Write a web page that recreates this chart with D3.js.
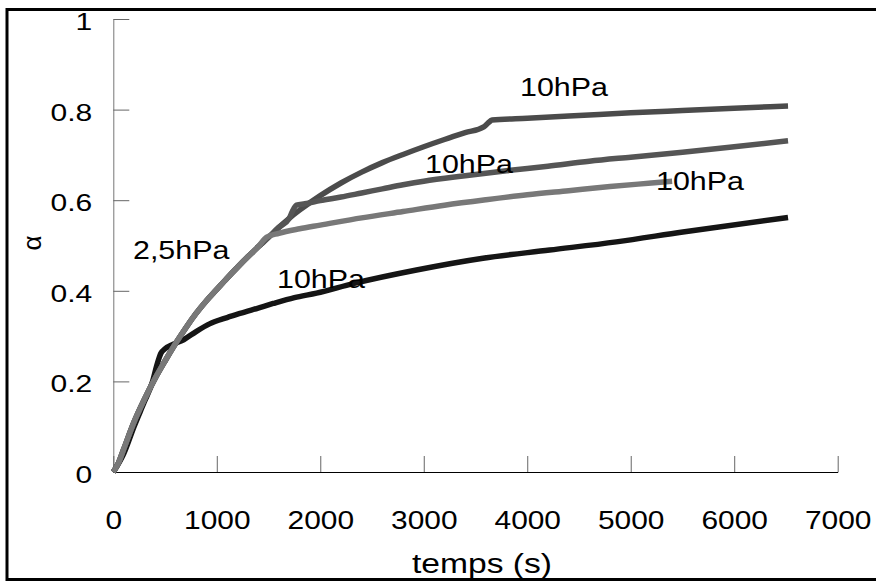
<!DOCTYPE html>
<html>
<head>
<meta charset="utf-8">
<script src="https://cdn.jsdelivr.net/npm/d3@7/dist/d3.min.js"></script>
<style>
  html, body { margin: 0; padding: 0; background: #fff; overflow: hidden; }
  svg { display: block; }
  text { font-family: "Liberation Sans", Arial, sans-serif; fill: #000; }
</style>
</head>
<body>
<svg id="chart" width="876" height="583"></svg>
<script>
// ---------- data ----------
const xTickValues = [0, 1000, 2000, 3000, 4000, 5000, 6000, 7000];
const xTickLabels = ["0", "1000", "2000", "3000", "4000", "5000", "6000", "7000"];
const yTickValues = [0, 0.2, 0.4, 0.6, 0.8, 1];
const yTickLabels = ["0", "0.2", "0.4", "0.6", "0.8", "1"];

// common 2,5 hPa segment
const commonT = [0, 50, 100, 200, 300, 400, 500, 600, 700, 800, 900, 1000, 1100, 1200, 1300, 1400, 1500, 1600, 1700, 1800, 2000, 2200, 2400, 2600, 2800, 3000, 3200, 3400, 3580];
const commonA = [0, 0.02, 0.05, 0.11, 0.16, 0.205, 0.245, 0.283, 0.318, 0.35, 0.378, 0.403, 0.428, 0.452, 0.475, 0.497, 0.518, 0.54, 0.56, 0.578, 0.61, 0.638, 0.662, 0.683, 0.701, 0.718, 0.734, 0.749, 0.762];

// switch to 10 hPa at ~450 s (black)
const blackT = [0, 100, 200, 300, 380, 420, 460, 500, 560, 680, 800, 930, 1100, 1224, 1400, 1545, 1750, 1964, 2318, 2930, 3573, 4217, 4861, 5504, 6520];
const blackA = [0, 0.04, 0.1, 0.155, 0.2, 0.235, 0.262, 0.272, 0.28, 0.292, 0.31, 0.327, 0.341, 0.35, 0.362, 0.372, 0.385, 0.395, 0.416, 0.446, 0.472, 0.49, 0.508, 0.53, 0.562];

// switch at ~1450 s (light grey)
const lightSwitch = 1400;
const lightT = [1480, 1600, 1800, 2000, 2400, 2800, 3200, 3600, 4000, 4400, 4800, 5200, 5400];
const lightA = [0.518, 0.527, 0.537, 0.545, 0.561, 0.575, 0.589, 0.601, 0.612, 0.621, 0.630, 0.638, 0.642];

// switch at ~1750 s (mid grey)
const midSwitch = 1700;
const midT = [1730, 1770, 1850, 2000, 2200, 2400, 2600, 2800, 3000, 3400, 3800, 4200, 4600, 5000, 5500, 6000, 6520];
const midA = [0.575, 0.589, 0.592, 0.599, 0.607, 0.616, 0.625, 0.634, 0.642, 0.654, 0.665, 0.675, 0.686, 0.695, 0.706, 0.718, 0.731];

// switch at ~3600 s (dark grey)
const upperSwitch = 3580;
const upperT = [3620, 3660, 4000, 4500, 5000, 5500, 6000, 6520];
const upperA = [0.770, 0.777, 0.781, 0.787, 0.793, 0.798, 0.803, 0.808];

const labelTexts = ["10hPa", "10hPa", "10hPa", "2,5hPa", "10hPa"];

// ---------- build series ----------
function withCommon(limit, tailT, tailA) {
  const pts = [];
  commonT.forEach((t, i) => { if (t <= limit) pts.push([t, commonA[i]]); });
  tailT.forEach((t, i) => pts.push([t, tailA[i]]));
  return pts;
}
const series = [
  { pts: blackT.map((t, i) => [t, blackA[i]]), color: "#151515" },
  { pts: withCommon(upperSwitch, upperT, upperA), color: "#4b4b4b" },
  { pts: withCommon(midSwitch, midT, midA), color: "#555555" },
  { pts: withCommon(lightSwitch, lightT, lightA), color: "#787878" }
];

// ---------- drawing ----------
const svg = d3.select("#chart");
const x = d3.scaleLinear().domain([0, 7000]).range([113.3, 837.7]);
const y = d3.scaleLinear().domain([0, 1]).range([472, 19]);

// outer frame
svg.append("rect")
  .attr("x", 7).attr("y", 9.5).attr("width", 890).attr("height", 570)
  .attr("fill", "#fff").attr("stroke", "#000").attr("stroke-width", 3);

// y axis
const ySX = 1.25, yPad = 21;
const gy = svg.append("g").attr("transform", "translate(113.3,0)")
  .call(d3.axisLeft(y).tickValues(yTickValues).tickSize(-16).tickSizeOuter(0)
    .tickPadding(yPad).tickFormat((d, i) => yTickLabels[i]));
gy.select(".domain").attr("stroke", "#777");
gy.selectAll(".tick line").attr("stroke", "#666");
gy.selectAll(".tick text")
  .attr("font-size", 24)
  .attr("font-family", "'Liberation Sans', Arial, sans-serif")
  .attr("fill", "#000")
  .attr("dy", "0.44em")
  .attr("x", -yPad / ySX)
  .attr("transform", `scale(${ySX},1)`);

// x axis
const xSX = 1.15;
const gx = svg.append("g").attr("transform", "translate(0,472)")
  .call(d3.axisBottom(x).tickValues(xTickValues).tickSize(-16).tickSizeOuter(0)
    .tickPadding(39).tickFormat((d, i) => xTickLabels[i]));
gx.select(".domain").attr("stroke", "#000");
gx.selectAll(".tick line").attr("stroke", "#666");
gx.selectAll(".tick text")
  .attr("font-size", 26)
  .attr("font-family", "'Liberation Sans', Arial, sans-serif")
  .attr("fill", "#000")
  .attr("transform", `scale(${xSX},1)`);

// lines
const line = d3.line().x(d => x(d[0])).y(d => y(d[1])).curve(d3.curveMonotoneX);
svg.append("g").selectAll("path").data(series).join("path")
  .attr("d", d => line(d.pts))
  .attr("fill", "none")
  .attr("stroke", d => d.color)
  .attr("stroke-width", 5.5)
  .attr("stroke-linejoin", "round")
  .attr("stroke-linecap", "butt");

// text helper (horizontally stretched like the reference)
function stext(txt, px, py, size, sx, anchor) {
  return svg.append("text")
    .attr("transform", `translate(${px},${py}) scale(${sx},1)`)
    .attr("font-size", size)
    .attr("text-anchor", anchor || "start")
    .text(txt);
}

// curve labels
const labelPos = [[520, 96], [425, 173], [656, 190], [133, 259], [277, 288]];
labelTexts.forEach((t, i) => stext(t, labelPos[i][0], labelPos[i][1], 26, 1.17, "start"));

// axis titles
stext("temps (s)", 482, 573, 28, 1.2, "middle");
svg.append("text")
  .attr("transform", "translate(41,243) rotate(-90)")
  .attr("font-size", 26)
  .attr("text-anchor", "middle")
  .text("α");
</script>
</body>
</html>
